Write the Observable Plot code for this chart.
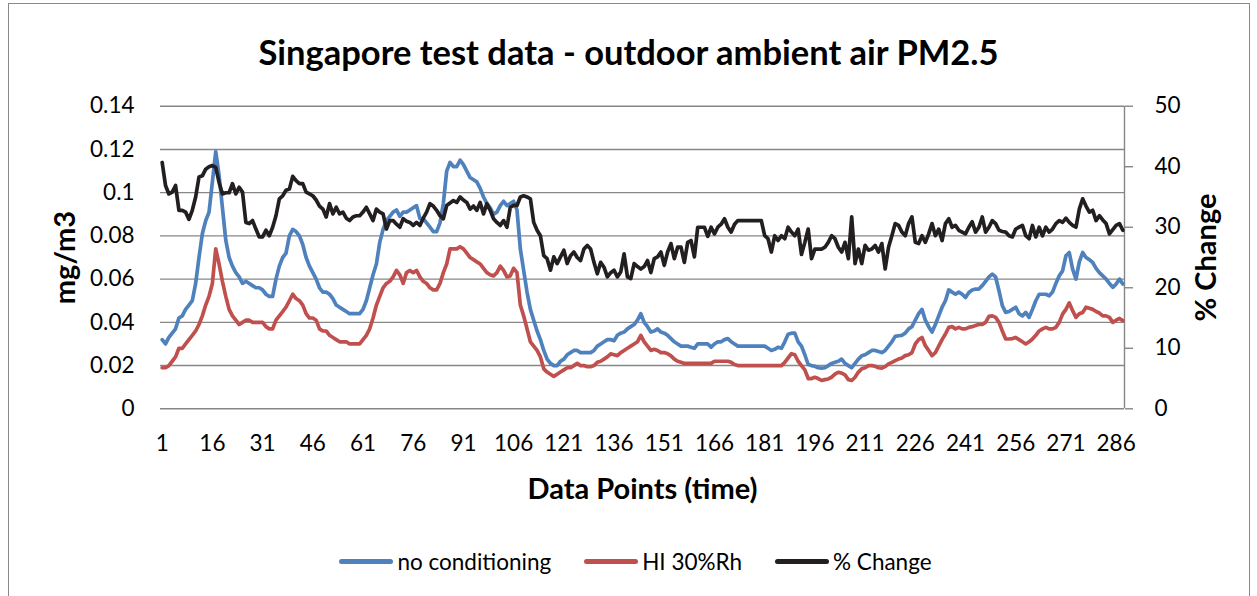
<!DOCTYPE html>
<html>
<head>
<meta charset="utf-8">
<script src="https://cdn.jsdelivr.net/npm/d3@7"></script>
<script src="https://cdn.jsdelivr.net/npm/@observablehq/plot@0.6"></script>
<style>
  html, body { margin: 0; padding: 0; background: #fff; }
  #page { position: relative; width: 1257px; height: 596px; overflow: hidden; font-family: Lato, "Open Sans", sans-serif; color: #000; }
  #frame { position: absolute; left: 8px; top: 3px; width: 1242px; height: 610px; border: 1.5px solid #8a8a8a; box-sizing: border-box; }
  #title { position: absolute; left: 0; top: 30px; width: 1257px; text-align: center; font-weight: bold; font-size: 34.5px; line-height: 44px; }
  #chart { position: absolute; left: 0; top: 80px; }
  #legend { position: absolute; left: 7px; top: 547px; width: 1257px; height: 28px; display: flex; justify-content: center; align-items: center; gap: 33px; font-size: 22.5px; }
  #legend .item { display: flex; align-items: center; }
  #legend .sw { display: inline-block; width: 54px; height: 5px; border-radius: 3px; margin-right: 4px; }
</style>
</head>
<body>
<div id="page">
  <div id="frame"></div>
  <div id="title">Singapore test data - outdoor ambient air PM2.5</div>
  <div id="chart"></div>
  <div id="legend"></div>
</div>
<script>
// ---- data ----
const noConditioning = [
  0.032,0.030,0.033,0.035,0.037,0.042,0.043,0.046,0.048,0.050,
  0.058,0.070,0.081,0.087,0.091,0.105,0.119,0.108,0.093,0.078,
  0.070,0.066,0.063,0.061,0.058,0.059,0.058,0.057,0.056,0.056,
  0.055,0.053,0.052,0.052,0.060,0.066,0.070,0.072,0.080,0.083,
  0.082,0.080,0.076,0.070,0.066,0.063,0.060,0.056,0.054,0.054,
  0.053,0.051,0.048,0.047,0.046,0.045,0.044,0.044,0.044,0.044,
  0.046,0.050,0.056,0.062,0.067,0.077,0.083,0.087,0.089,0.091,
  0.092,0.089,0.091,0.091,0.092,0.093,0.094,0.088,0.088,0.086,
  0.084,0.082,0.082,0.086,0.095,0.110,0.114,0.112,0.112,0.115,
  0.113,0.110,0.107,0.106,0.105,0.102,0.098,0.095,0.093,0.090,
  0.091,0.094,0.096,0.094,0.095,0.096,0.092,0.074,0.064,0.054,
  0.046,0.041,0.036,0.032,0.027,0.023,0.021,0.020,0.020,0.022,
  0.023,0.025,0.026,0.027,0.027,0.026,0.026,0.026,0.026,0.027,
  0.029,0.030,0.031,0.032,0.032,0.0315,0.034,0.035,0.0355,0.037,
  0.038,0.039,0.041,0.044,0.040,0.038,0.0355,0.036,0.037,0.0355,
  0.035,0.034,0.0325,0.031,0.030,0.029,0.029,0.029,0.0285,0.028,
  0.030,0.030,0.030,0.030,0.0285,0.030,0.031,0.031,0.032,0.0325,
  0.031,0.030,0.029,0.029,0.029,0.029,0.029,0.029,0.029,0.029,
  0.029,0.028,0.027,0.0275,0.0285,0.028,0.031,0.0345,0.035,0.035,
  0.031,0.029,0.025,0.0205,0.020,0.0197,0.019,0.0188,0.019,0.020,
  0.021,0.0215,0.022,0.023,0.021,0.020,0.019,0.021,0.023,0.0245,
  0.025,0.026,0.027,0.027,0.0265,0.026,0.027,0.029,0.031,0.0335,
  0.0338,0.034,0.035,0.037,0.038,0.041,0.044,0.046,0.041,0.038,
  0.0355,0.039,0.043,0.047,0.050,0.055,0.054,0.053,0.054,0.053,
  0.0515,0.0538,0.055,0.0554,0.0554,0.057,0.059,0.061,0.0623,0.061,
  0.0546,0.0477,0.0446,0.045,0.046,0.047,0.044,0.043,0.0446,0.0423,
  0.046,0.050,0.053,0.053,0.053,0.0523,0.054,0.058,0.0615,0.0638,
  0.0708,0.0723,0.0646,0.060,0.068,0.0723,0.070,0.069,0.0677,0.065,
  0.063,0.0615,0.060,0.058,0.0562,0.0577,0.060,0.0577
];
const hi30Rh = [
  0.019,0.019,0.020,0.022,0.024,0.028,0.028,0.030,0.032,0.034,
  0.036,0.039,0.043,0.048,0.052,0.058,0.074,0.067,0.059,0.052,
  0.046,0.043,0.041,0.039,0.040,0.041,0.041,0.040,0.040,0.040,
  0.040,0.038,0.037,0.037,0.041,0.043,0.045,0.047,0.050,0.053,
  0.051,0.050,0.048,0.044,0.042,0.042,0.041,0.037,0.036,0.036,
  0.034,0.033,0.032,0.031,0.031,0.031,0.030,0.030,0.030,0.030,
  0.032,0.034,0.037,0.042,0.048,0.052,0.056,0.058,0.059,0.061,
  0.064,0.062,0.058,0.063,0.064,0.063,0.064,0.061,0.059,0.058,
  0.056,0.055,0.055,0.058,0.063,0.067,0.074,0.074,0.074,0.075,
  0.074,0.072,0.070,0.069,0.068,0.067,0.065,0.063,0.062,0.0615,
  0.063,0.066,0.064,0.061,0.0615,0.065,0.063,0.048,0.043,0.037,
  0.031,0.029,0.027,0.024,0.0185,0.017,0.016,0.015,0.016,0.017,
  0.018,0.019,0.019,0.020,0.021,0.020,0.020,0.0195,0.0195,0.020,
  0.0215,0.022,0.023,0.024,0.0254,0.025,0.0246,0.026,0.027,0.028,
  0.029,0.030,0.031,0.034,0.031,0.029,0.027,0.0275,0.027,0.026,
  0.026,0.0255,0.0245,0.023,0.022,0.0215,0.021,0.021,0.021,0.021,
  0.021,0.021,0.021,0.021,0.021,0.022,0.022,0.022,0.022,0.022,
  0.0215,0.0205,0.020,0.020,0.020,0.020,0.020,0.020,0.020,0.020,
  0.020,0.020,0.020,0.020,0.020,0.020,0.0215,0.0235,0.0255,0.025,
  0.022,0.020,0.018,0.014,0.014,0.0146,0.014,0.0131,0.0135,0.0138,
  0.0146,0.016,0.0169,0.0165,0.0157,0.0135,0.0131,0.0146,0.017,0.0185,
  0.019,0.020,0.020,0.0197,0.019,0.0188,0.0195,0.0208,0.0215,0.0223,
  0.023,0.0235,0.0246,0.025,0.026,0.030,0.032,0.033,0.0292,0.027,
  0.0246,0.026,0.029,0.032,0.0346,0.0377,0.038,0.037,0.0377,0.037,
  0.037,0.0377,0.038,0.0385,0.039,0.039,0.040,0.0428,0.043,0.0423,
  0.040,0.036,0.0323,0.0323,0.0325,0.033,0.032,0.031,0.030,0.031,
  0.0323,0.034,0.036,0.037,0.0377,0.037,0.037,0.0377,0.040,0.0438,
  0.046,0.049,0.0454,0.0423,0.044,0.0446,0.047,0.0465,0.046,0.045,
  0.0443,0.043,0.043,0.0423,0.040,0.041,0.0418,0.0408
];
const pctChange = [
  40.7,36.9,35.5,35.8,36.9,32.8,32.8,32.5,31.3,32.8,
  35.0,38.3,38.5,39.6,40.0,40.2,39.9,37.4,35.5,35.7,
  35.7,37.2,35.5,36.6,35.8,30.8,30.6,31.1,29.7,28.4,
  28.4,29.5,28.6,30.0,31.9,34.7,35.2,36.1,36.3,38.4,
  37.7,37.2,37.2,35.8,35.5,35.2,34.5,33.5,33.0,31.7,
  33.9,32.2,33.3,32.2,32.5,31.5,31.1,31.7,31.9,31.9,
  32.5,33.3,32.2,31.1,33.0,32.5,32.2,29.7,31.1,31.1,
  30.5,30.0,31.4,31.0,30.8,30.3,30.8,30.3,31.5,32.5,
  33.9,33.5,32.8,31.9,31.4,33.6,34.0,34.4,34.1,35.0,
  34.5,34.1,33.0,33.5,32.8,34.1,32.2,33.9,32.8,31.4,
  30.8,30.3,31.1,30.0,33.3,33.6,33.6,35.0,35.2,35.0,
  34.7,30.8,29.5,28.6,25.3,24.8,22.9,25.1,24.0,25.1,
  26.2,24.0,25.3,25.9,25.0,24.5,26.4,27.0,26.4,24.2,
  22.3,24.2,23.4,21.8,22.5,22.9,21.8,22.6,25.6,21.8,
  21.5,24.0,23.5,23.1,23.5,24.5,22.5,24.8,25.1,25.9,
  23.7,25.9,27.3,24.8,26.7,26.7,24.2,27.5,27.8,25.1,
  30.0,30.0,30.0,28.5,30.0,28.9,30.0,30.5,31.4,30.0,
  29.2,30.5,31.1,31.1,31.1,31.1,31.1,31.1,31.1,31.1,
  28.6,28.1,25.9,28.6,27.8,28.6,28.1,30.0,29.2,28.6,
  29.7,25.5,27.5,29.7,24.8,26.4,26.4,26.4,26.7,27.5,
  28.6,28.1,26.7,25.9,27.5,24.8,31.7,24.0,26.4,24.0,
  27.0,26.2,26.4,27.0,25.9,27.3,23.1,26.7,28.6,30.6,
  30.3,29.2,28.6,30.6,31.7,27.5,27.3,28.6,27.5,28.9,
  30.6,28.6,29.7,27.8,30.6,31.4,30.0,30.3,29.5,29.2,
  28.9,30.0,30.9,29.2,30.0,31.7,29.2,30.0,31.1,30.6,
  29.5,29.3,29.2,28.6,28.4,29.7,30.0,30.3,28.6,28.1,
  30.3,28.4,30.0,28.6,30.0,29.2,29.7,30.6,31.1,30.8,
  31.5,30.8,30.3,30.0,33.0,34.7,33.5,32.5,32.8,31.1,
  31.9,31.2,30.6,28.9,29.6,30.3,30.6,29.5
];
const xTickLabels = [1,16,31,46,61,76,91,106,121,136,151,166,181,196,211,226,241,256,271,286];
const leftTicks = [0,0.02,0.04,0.06,0.08,0.1,0.12,0.14];
const rightTicks = [0,10,20,30,40,50];
const seriesNames = ["no conditioning","HI 30%Rh","% Change"];
const seriesColors = ["#4F81BD","#C0504D","#231F20"];

// ---- build ----
const leftMax = 0.14, rightMax = 50;
const toLeft = v => v * leftMax / rightMax;   // map % axis onto the mg/m3 scale
const rows = noConditioning.map((v, k) => ({
  i: k + 1, blue: v, red: hi30Rh[k], pct: toLeft(pctChange[k])
}));
const n = rows.length;
const lineOpts = {x: "i", strokeWidth: 3.7, strokeLinejoin: "round", strokeLinecap: "round"};
const titleOpts = {text: d => d, rotate: -90, fontWeight: "bold", fontSize: 29, textAnchor: "middle", lineAnchor: "middle"};

const chart = Plot.plot({
  width: 1257,
  height: 440,
  marginLeft: 160,
  marginRight: 133,
  marginTop: 25.7,
  marginBottom: 111.7,
  style: {fontFamily: "Lato, 'Open Sans', sans-serif", fontSize: "22.5px", color: "#000", background: "transparent", overflow: "visible"},
  x: {domain: [0.5, n + 0.5]},
  y: {domain: [0, leftMax]},
  marks: [
    Plot.gridY(leftTicks, {stroke: "#878787", strokeOpacity: 1, strokeWidth: 1.4}),
    Plot.ruleX([n + 0.5], {stroke: "#878787", strokeWidth: 1.4}),
    Plot.axisY({ticks: leftTicks, tickSize: 0, tickPadding: 26, label: null, tickFormat: d => d3.format("~g")(+d.toFixed(2))}),
    Plot.axisY({anchor: "right", ticks: rightTicks.map(toLeft), tickSize: 8, tickPadding: 22, stroke: "#878787", strokeWidth: 1.4, label: null,
      tickFormat: d => String(Math.round(d * rightMax / leftMax))}),
    Plot.axisX({ticks: xTickLabels, tickSize: 0, tickPadding: 26, label: null, tickFormat: d => String(d)}),
    Plot.lineY(rows, {...lineOpts, y: "blue", stroke: seriesColors[0]}),
    Plot.lineY(rows, {...lineOpts, y: "red", stroke: seriesColors[1]}),
    Plot.lineY(rows, {...lineOpts, y: "pct", stroke: seriesColors[2]}),
    Plot.text(["mg/m3"], {...titleOpts, frameAnchor: "left", dx: -95}),
    Plot.text(["% Change"], {...titleOpts, frameAnchor: "right", dx: 82}),
    Plot.text(["Data Points (time)"], {text: d => d, frameAnchor: "bottom", dy: 81, fontWeight: "bold", fontSize: 29, textAnchor: "middle", lineAnchor: "middle"})
  ]
});
document.getElementById("chart").appendChild(chart);

const legend = document.getElementById("legend");
seriesNames.forEach((name, k) => {
  const item = document.createElement("span");
  item.className = "item";
  const sw = document.createElement("span");
  sw.className = "sw";
  sw.style.background = seriesColors[k];
  item.appendChild(sw);
  item.appendChild(document.createTextNode(name));
  legend.appendChild(item);
});
</script>
</body>
</html>
